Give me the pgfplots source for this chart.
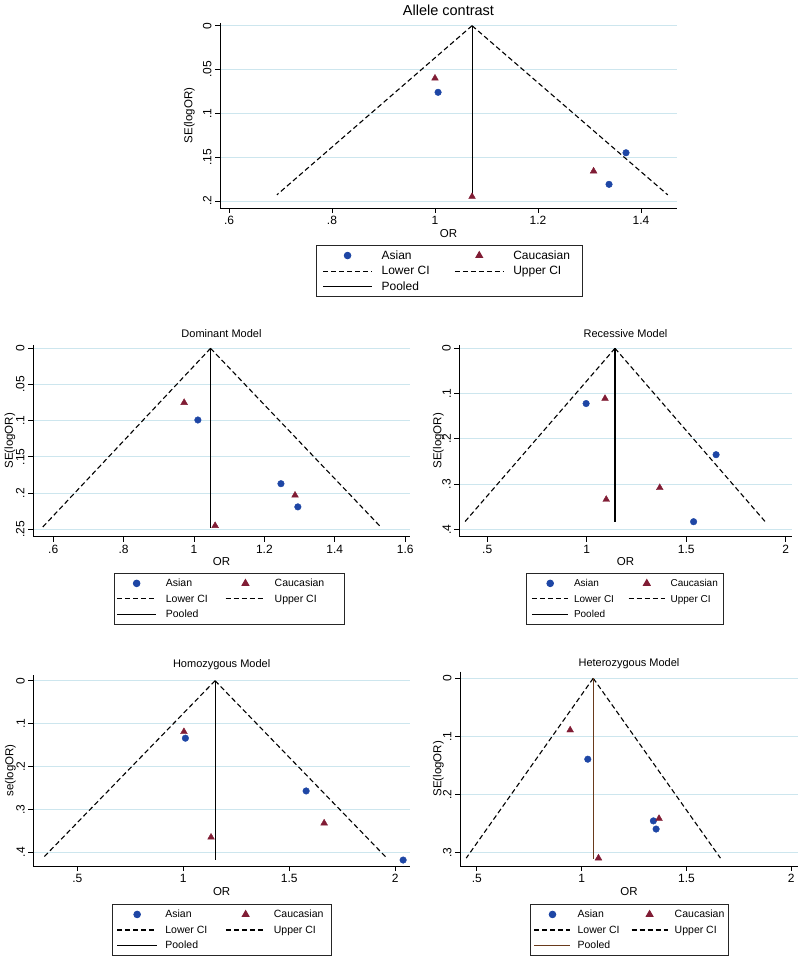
\documentclass[border=0pt]{standalone}
\usepackage{fontspec}
\setmainfont{Liberation Sans}
\usepackage{pgfplots}
\pgfplotsset{compat=1.18}

\definecolor{asian}{RGB}{30,70,165}
\definecolor{cauc}{RGB}{128,28,52}
\definecolor{gridc}{RGB}{205,230,238}
\definecolor{pooledbr}{RGB}{105,58,28}

\newcommand{\fs}[1]{\fontsize{#1}{#1}\selectfont}
% fixed-width legend text with a strut so rows are even
\newcommand{\lt}[2]{\makebox[#1][l]{\rule[-2.5pt]{0pt}{11pt}#2}}

\pgfplotsset{
  funnel/.style={
    scale only axis, y dir=reverse,
    axis lines=left, axis line style={-, line width=0.9pt},
    tick align=outside, major tick length=5pt,
    tick style={black, line width=0.9pt},
    ymajorgrids, grid style={gridc, line width=0.9pt},
    xticklabel style={font=\fs{12}},
    yticklabel style={font=\fs{12}, rotate=90, anchor=south},
    xlabel={OR},
    title style={font=\fs{11}, at={(0.5,1)}, anchor=center},
    legend columns=2, legend cell align=left,
    legend style={draw=black!85, line width=0.9pt, inner ysep=5pt, row sep=5.5pt,
      anchor=north, nodes={inner sep=0pt}},
  },
  asianp/.style={only marks, mark=*, mark size=3.3pt, color=asian},
  caucp/.style={only marks, mark=triangle*, mark size=3.9pt, color=cauc},
  cil/.style={black, line width=1.1pt, dash pattern=on 5pt off 3pt},
  pool/.style={black, line width=1.1pt},
  legkey/.style={legend image code/.code={%
    \draw[mark repeat=2,mark phase=2,##1] plot coordinates {(0pt,0pt) (#1/2,0pt) (#1,0pt)};}},
  legsep/.style={legend style={/tikz/every odd column/.append style={column sep=#1}}},
}

\begin{document}
\begin{tikzpicture}
\path[use as bounding box] (0,0) rectangle (800pt,960pt);

% Allele contrast
\begin{axis}[funnel, at={(220pt,937pt)}, anchor=north west,
  width=457pt, height=185pt,
  xmin=0.5825, xmax=1.470, ymin=-0.0031, ymax=0.208,
  xtick={0.6,0.8,1,1.2,1.4}, xticklabels={.6,.8,1,1.2,1.4},
  ytick={0,0.05,0.1,0.15,0.2}, yticklabels={0,.05,.1,.15,.2},
  title={Allele contrast}, title style={font=\fs{14.5}, yshift=6.3pt},
  ylabel={SE(logOR)}, ylabel style={font=\fs{11.5}, at={(-0.0672,0.5)}, anchor=center},
  xlabel style={font=\fs{11.5}, at={(0.5,0)}, anchor=center, yshift=-26pt},
  legkey=49pt, legsep=9pt,
  legend style={at={(0.502,-0.2)}, inner xsep=5.7pt, font=\fs{12}}]
\addplot[asianp] coordinates {(1.006,0.076) (1.371,0.145) (1.338,0.181)};
\addlegendentry{\lt{72.6pt}{Asian}}
\addplot[caucp] coordinates {(1.000,0.060) (1.308,0.166) (1.072,0.195)};
\addlegendentry{\lt{63pt}{Caucasian}}
\addplot[cil] coordinates {(1.072,0) (0.693,0.193)};
\addlegendentry{\lt{72.6pt}{Lower CI}}
\addplot[cil] coordinates {(1.072,0) (1.452,0.193)};
\addlegendentry{\lt{63pt}{Upper CI}}
\addplot[pool] coordinates {(1.072,0) (1.072,0.195)};
\addlegendentry{\lt{72.6pt}{Pooled}}
\end{axis}

% Dominant
\begin{axis}[funnel, at={(33pt,615pt)}, anchor=north west,
  width=377pt, height=191.7pt,
  xmin=0.5426, xmax=1.6136, ymin=-0.0046, ymax=0.2602,
  xtick={0.6,0.8,1,1.2,1.4,1.6}, xticklabels={.6,.8,1,1.2,1.4,1.6},
  ytick={0,0.05,0.1,0.15,0.2,0.25}, yticklabels={0,.05,.1,.15,.2,.25},
  title={Dominant Model}, title style={yshift=5pt},
  ylabel={SE(logOR)}, ylabel style={font=\fs{11.5}, at={(-0.061,0.5)}, anchor=center},
  xlabel style={font=\fs{11.5}, at={(0.5,0)}, anchor=center, yshift=-25pt},
  legkey=39.4pt, legsep=9pt,
  legend style={at={(0.52,-0.189)}, inner xsep=2.3pt, font=\fs{10.5}}]
\addplot[asianp] coordinates {(1.011,0.099) (1.247,0.187) (1.295,0.219)};
\addlegendentry{\lt{59.3pt}{Asian}}
\addplot[caucp] coordinates {(0.972,0.075) (1.287,0.203) (1.060,0.245)};
\addlegendentry{\lt{67pt}{Caucasian}}
\addplot[cil] coordinates {(1.047,0) (0.570,0.247)};
\addlegendentry{\lt{59.3pt}{Lower CI}}
\addplot[cil] coordinates {(1.047,0) (1.531,0.247)};
\addlegendentry{\lt{67pt}{Upper CI}}
\addplot[pool] coordinates {(1.047,0) (1.047,0.248)};
\addlegendentry{\lt{59.3pt}{Pooled}}
\end{axis}

% Recessive
\begin{axis}[funnel, at={(459.3pt,615pt)}, anchor=north west,
  width=332.4pt, height=191.7pt,
  xmin=0.3598, xmax=2.030, ymin=-0.0073, ymax=0.4161,
  xtick={0.5,1,1.5,2}, xticklabels={.5,1,1.5,2},
  ytick={0,0.1,0.2,0.3,0.4}, yticklabels={0,.1,.2,.3,.4},
  title={Recessive Model}, title style={yshift=5pt},
  ylabel={SE(logOR)}, ylabel style={font=\fs{11.5}, at={(-0.0632,0.5)}, anchor=center},
  xlabel style={font=\fs{11.5}, at={(0.5,0)}, anchor=center, yshift=-25pt},
  legkey=36.5pt, legsep=5pt,
  legend style={at={(0.4985,-0.189)}, inner xsep=5pt, font=\fs{10}}]
\addplot[asianp] coordinates {(0.997,0.122) (1.650,0.235) (1.537,0.383)};
\addlegendentry{\lt{54pt}{Asian}}
\addplot[caucp] coordinates {(1.092,0.111) (1.367,0.308) (1.098,0.334)};
\addlegendentry{\lt{48pt}{Caucasian}}
\addplot[cil] coordinates {(1.142,0) (0.388,0.383)};
\addlegendentry{\lt{54pt}{Lower CI}}
\addplot[cil] coordinates {(1.142,0) (1.897,0.383)};
\addlegendentry{\lt{48pt}{Upper CI}}
\addplot[pool] coordinates {(1.142,0) (1.142,0.383)};
\addlegendentry{\lt{54pt}{Pooled}}
\end{axis}

% Homozygous
\begin{axis}[funnel, at={(33.3pt,285pt)}, anchor=north west,
  width=376.7pt, height=191pt,
  xmin=0.2918, xmax=2.0704, ymin=-0.0133, ymax=0.4319,
  xtick={0.5,1,1.5,2}, xticklabels={.5,1,1.5,2},
  ytick={0,0.1,0.2,0.3,0.4}, yticklabels={0,.1,.2,.3,.4},
  title={Homozygous Model}, title style={yshift=4pt},
  ylabel={se(logOR)}, ylabel style={font=\fs{11.5}, at={(-0.061,0.5)}, anchor=center},
  xlabel style={font=\fs{11.5}, at={(0.5,0)}, anchor=center, yshift=-25.7pt},
  legkey=39.4pt, legsep=8pt,
  legend style={at={(0.502,-0.199)}, inner xsep=4pt, font=\fs{10.5}}]
\addplot[asianp] coordinates {(1.010,0.134) (1.580,0.257) (2.038,0.418)};
\addlegendentry{\lt{60pt}{Asian}}
\addplot[caucp] coordinates {(1.003,0.119) (1.665,0.332) (1.131,0.365)};
\addlegendentry{\lt{54pt}{Caucasian}}
\addplot[cil] coordinates {(1.150,0) (0.338,0.413)};
\addlegendentry{\lt{60pt}{Lower CI}}
\addplot[cil] coordinates {(1.150,0) (1.960,0.413)};
\addlegendentry{\lt{54pt}{Upper CI}}
\addplot[pool] coordinates {(1.150,0) (1.150,0.418)};
\addlegendentry{\lt{60pt}{Pooled}}
\end{axis}

% Heterozygous
\begin{axis}[funnel, at={(460pt,288.3pt)}, anchor=north west,
  width=338pt, height=194.3pt,
  xmin=0.4194, xmax=2.032, ymin=-0.0113, ymax=0.3225,
  xtick={0.5,1,1.5,2}, xticklabels={.5,1,1.5,2},
  ytick={0,0.1,0.2,0.3}, yticklabels={0,.1,.2,.3},
  title={Heterozygous Model}, title style={yshift=2.4pt},
  ylabel={SE(logOR)}, ylabel style={font=\fs{11.5}, at={(-0.0642,0.5)}, anchor=center},
  xlabel style={font=\fs{11.5}, at={(0.5,0)}, anchor=center, yshift=-25.7pt},
  legkey=36pt, legsep=6.6pt,
  legend style={at={(0.501,-0.1956)}, inner xsep=3.3pt, font=\fs{10.5}}]
\addplot[asianp] coordinates {(1.029,0.139) (1.342,0.245) (1.355,0.259)};
\addlegendentry{\lt{53.4pt}{Asian}}
\addplot[caucp] coordinates {(0.945,0.089) (1.369,0.241) (1.080,0.309)};
\addlegendentry{\lt{50pt}{Caucasian}}
\addplot[cil] coordinates {(1.055,0) (0.449,0.309)};
\addlegendentry{\lt{53.4pt}{Lower CI}}
\addplot[cil] coordinates {(1.055,0) (1.662,0.309)};
\addlegendentry{\lt{50pt}{Upper CI}}
\addplot[pool, pooledbr] coordinates {(1.055,0) (1.055,0.310)};
\addlegendentry{\lt{53.4pt}{Pooled}}
\end{axis}
\end{tikzpicture}
\end{document}
